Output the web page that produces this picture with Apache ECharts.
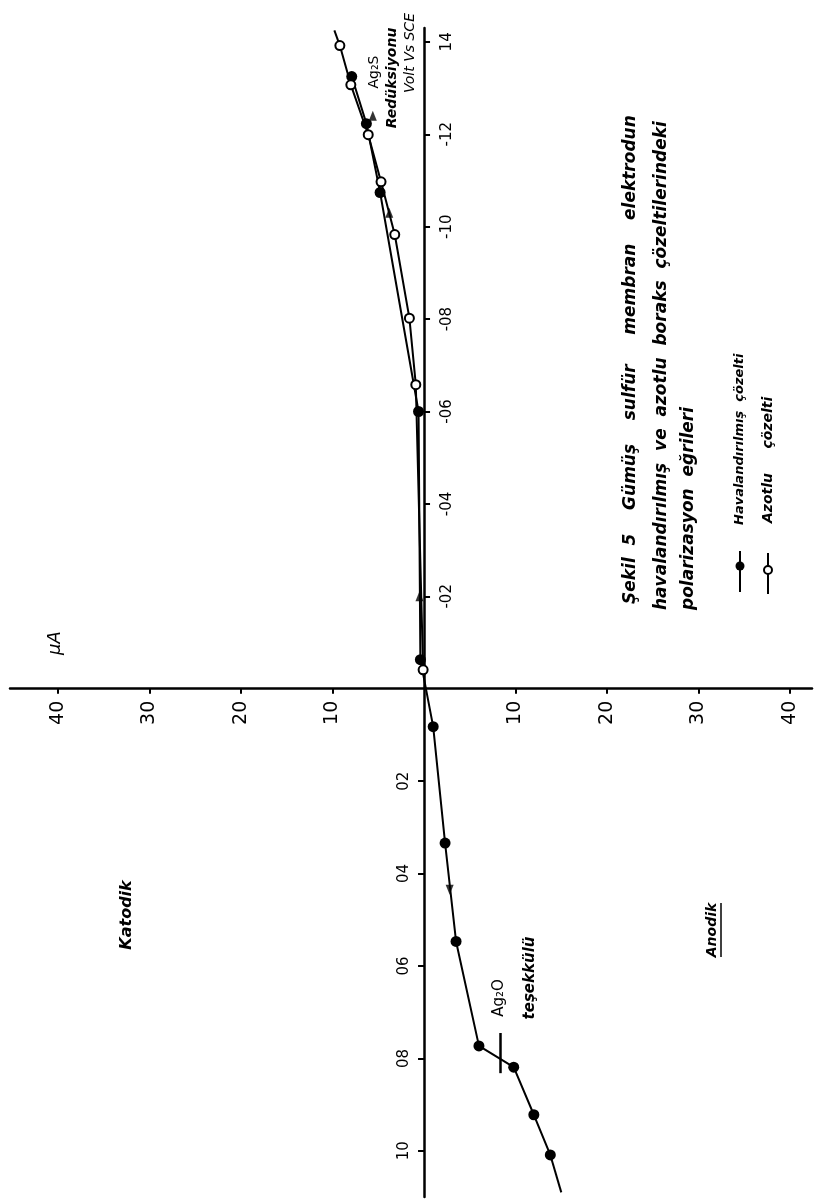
<!DOCTYPE html>
<html><head><meta charset="utf-8">
<script src="https://cdn.jsdelivr.net/npm/echarts@6/dist/echarts.min.js"></script>
<style>html,body{margin:0;padding:0;background:#fff}#c{width:824px;height:1199px}</style>
</head><body><div id="c"></div>
<script>
// Havalandırılmış çözelti (filled circles): current (mA), potential (V vs SCE)
const airPotential = [-1.325, -1.223, -1.074, -0.600, -0.063, 0.082, 0.334, 0.547, 0.773, 0.819, 0.922, 1.009];
const airCurrent   = [-7.9, -6.3, -4.8, -0.6, -0.4, 1.0, 2.3, 3.5, 6.0, 9.8, 12.0, 13.8];
// Azotlu çözelti (open circles)
const n2Potential = [-1.392, -1.307, -1.199, -1.097, -0.983, -0.802, -0.658, -0.041];
const n2Current   = [-9.2, -8.0, -6.1, -4.7, -3.2, -1.6, -0.9, -0.1];
// curve continuations past the last plotted points
const n2TailPotential = [-1.392, -1.425];
const n2TailCurrent   = [-9.2, -9.8];
const airTailPotential = [1.009, 1.09];
const airTailCurrent   = [13.8, 15.0];
// direction arrows drawn on the curves
const arrowUpPotential = [-1.24, -1.03, -0.2];
const arrowUpCurrent   = [-5.6, -3.8, -0.5];
const arrowDownPotential = [0.435];
const arrowDownCurrent   = [2.8];
// Ag2O formation mark
const ag2oMarkCurrent = [8.3, 8.3];
const ag2oMarkPotential = [0.745, 0.832];
// axis ticks and labels
const potentialTicks  = [-1.4, -1.2, -1.0, -0.8, -0.6, -0.4, -0.2, 0.2, 0.4, 0.6, 0.8, 1.0];
const potentialLabels = ['14', '-12', '-10', '-08', '-06', '-04', '-02', '02', '04', '06', '08', '10'];
const currentTicks  = [-40, -30, -20, -10, 10, 20, 30, 40];
const currentLabels = ['40', '30', '20', '10', '10', '20', '30', '40'];

const zip = (xs, ys) => xs.map((x, i) => [x, ys[i]]);
const lookup = (ticks, labels) => v => {
  const i = ticks.findIndex(t => Math.abs(t - v) < 1e-6);
  return i >= 0 ? labels[i] : '';
};

const chart = echarts.init(document.getElementById('c'), null, {renderer: 'canvas'});
const R = Math.PI / 2;
const HAND = 'DejaVu Sans';
function vtext(x, y, text, size, opts) {
  opts = opts || {};
  return {
    type: 'text', x: x, y: y, rotation: R, z: 10,
    style: {
      text: text, fill: '#000',
      font: (opts.italic === false ? '' : 'italic ') + (opts.bold === false ? '' : 'bold ') + size + 'px ' + HAND,
      align: opts.align || 'center', verticalAlign: 'middle'
    }
  };
}

const negTicks = potentialTicks.filter(v => v < 0);
const posTicks = potentialTicks.filter(v => v > 0);
const potFmt = lookup(potentialTicks, potentialLabels);
const GRID = {left: 10, right: 12, top: 28, bottom: 2};

chart.setOption({
  animation: false,
  backgroundColor: '#ffffff',
  grid: Object.assign({containLabel: false, outerBoundsMode: 'none'}, GRID),
  xAxis: {
    type: 'value', min: -45.25, max: 42.4, position: 'bottom', offset: 0,
    axisLine: {onZero: false, lineStyle: {color: '#000', width: 2.5}},
    axisTick: {customValues: currentTicks, length: 5, lineStyle: {color: '#000', width: 2}},
    axisLabel: {customValues: currentTicks, rotate: 90, margin: 12, fontSize: 19,
      fontFamily: 'DejaVu Sans', color: '#000', formatter: lookup(currentTicks, currentLabels)},
    splitLine: {show: false}
  },
  yAxis: [{
    type: 'value', inverse: true, min: -1.43, max: 1.1, position: 'left', offset: 0,
    axisLine: {onZero: false, lineStyle: {color: '#000', width: 2.5}},
    axisTick: {customValues: negTicks, inside: true, length: 6, lineStyle: {color: '#000', width: 2}},
    axisLabel: {customValues: negTicks, inside: true, rotate: 90, margin: 16, fontSize: 15,
      fontFamily: 'DejaVu Sans', color: '#000', formatter: potFmt},
    splitLine: {show: false}
  }, {
    type: 'value', inverse: true, min: -1.43, max: 1.1, position: 'left', offset: 0,
    axisLine: {show: false, onZero: false},
    axisTick: {customValues: posTicks, inside: false, length: 6, lineStyle: {color: '#000', width: 2}},
    axisLabel: {customValues: posTicks, rotate: 90, margin: 12, fontSize: 15,
      fontFamily: 'DejaVu Sans', color: '#000', formatter: potFmt},
    splitLine: {show: false}
  }],
  series: [
    {
      name: 'Havalandırılmış çözelti', type: 'line', data: zip(airCurrent, airPotential),
      symbol: 'circle', symbolSize: 11, itemStyle: {color: '#000'},
      lineStyle: {color: '#000', width: 2}, z: 3,
      markLine: {silent: true, symbol: 'none', label: {show: false},
        lineStyle: {color: '#000', width: 2.5, type: 'solid'},
        data: [[{coord: [ag2oMarkCurrent[0], ag2oMarkPotential[0]]}, {coord: [ag2oMarkCurrent[1], ag2oMarkPotential[1]]}]]}
    },
    {
      name: 'Azotlu çözelti', type: 'line', data: zip(n2Current, n2Potential),
      symbol: 'circle', symbolSize: 9,
      itemStyle: {color: '#fff', borderColor: '#000', borderWidth: 2},
      lineStyle: {color: '#000', width: 2}, z: 4
    },
    {type: 'line', data: zip(n2TailCurrent, n2TailPotential), symbol: 'none', lineStyle: {color: '#000', width: 2}},
    {type: 'line', data: zip(airTailCurrent, airTailPotential), symbol: 'none', lineStyle: {color: '#000', width: 2}},
    {type: 'scatter', data: zip(arrowUpCurrent, arrowUpPotential), symbol: 'triangle', symbolSize: [8, 10], itemStyle: {color: '#000'}, z: 5},
    {type: 'scatter', data: zip(arrowDownCurrent, arrowDownPotential), symbol: 'triangle', symbolRotate: 180, symbolSize: [8, 10], itemStyle: {color: '#000'}, z: 5}
  ],
  graphic: [
    // title block
    vtext(631, 604, 'Şekil  5    Gümüş    sulfür     membran    elektrodun', 17, {align: 'left'}),
    vtext(662, 610, 'havalandırılmış  ve  azotlu  boraks  çözeltilerindeki', 17, {align: 'left'}),
    vtext(689, 610, 'polarizasyon  eğrileri', 17, {align: 'left'}),
    // legend
    {type: 'line', shape: {x1: 740, y1: 592, x2: 740, y2: 551}, style: {stroke: '#000', lineWidth: 2}},
    {type: 'circle', shape: {cx: 740, cy: 566, r: 4.5}, style: {fill: '#000'}},
    vtext(740, 525, 'Havalandırılmış  çözelti', 13, {align: 'left'}),
    {type: 'line', shape: {x1: 768, y1: 594, x2: 768, y2: 553}, style: {stroke: '#000', lineWidth: 2}},
    {type: 'circle', shape: {cx: 768, cy: 570, r: 4}, style: {fill: '#fff', stroke: '#000', lineWidth: 2}},
    vtext(768, 523, 'Azotlu     çözelti', 14, {align: 'left'}),
    // axis annotations
    vtext(55, 643, 'μA', 18, {bold: false}),
    vtext(127, 915, 'Katodik', 16),
    vtext(712, 930, 'Anodik', 14),
    {type: 'line', shape: {x1: 721, y1: 903, x2: 721, y2: 957}, style: {stroke: '#000', lineWidth: 1.5}},
    vtext(374, 72, 'Ag₂S', 14, {bold: false, italic: false}),
    vtext(392, 78, 'Redüksiyonu', 14),
    vtext(410, 53, 'Volt Vs SCE', 14, {bold: false}),
    vtext(499, 998, 'Ag₂O', 15, {bold: false, italic: false}),
    vtext(530, 978, 'teşekkülü', 15)
  ]
});

// Move both axes so they cross at the origin (0 mA, 0 V), with their labels.
const origin = chart.convertToPixel({gridIndex: 0}, [0, 0]);
const gridBottomY = 1199 - GRID.bottom;
chart.setOption({
  xAxis: {offset: origin[1] - gridBottomY},
  yAxis: [{offset: GRID.left - origin[0]}, {offset: GRID.left - origin[0]}]
});
</script>
</body></html>
